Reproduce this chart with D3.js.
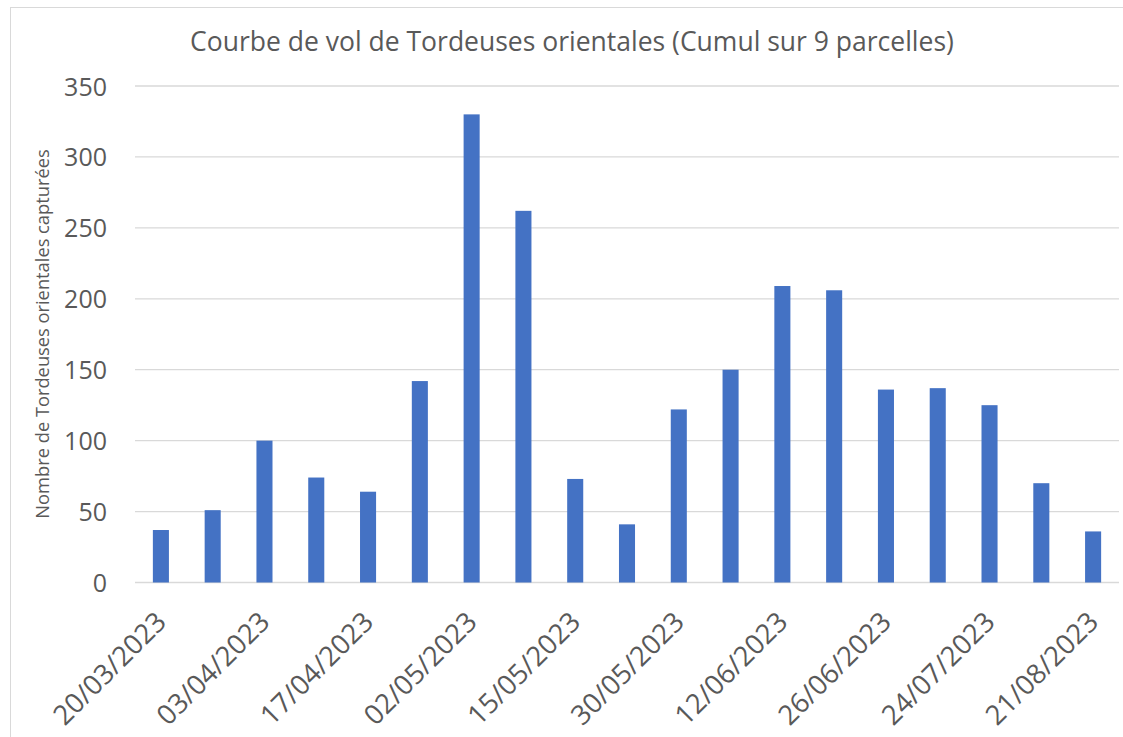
<!DOCTYPE html>
<html>
<head>
  <meta charset="utf-8">
  <title>Courbe de vol</title>
  <script src="https://cdn.jsdelivr.net/npm/d3@7"></script>
  <style>
    body { margin: 0; background: #fff; }
    svg text { font-family: "Open Sans", "Noto Sans", sans-serif; fill: #595959; }
  </style>
</head>
<body>
<div id="chart"></div>

<script>
// releves (one every ~week), only every other date is labelled on the axis
var dates = ['20/03/2023','27/03/2023','03/04/2023','10/04/2023','17/04/2023','24/04/2023',
             '02/05/2023','09/05/2023','15/05/2023','22/05/2023','30/05/2023','05/06/2023',
             '12/06/2023','19/06/2023','26/06/2023','10/07/2023','24/07/2023','07/08/2023',
             '21/08/2023'];
var captures = [37, 51, 100, 74, 64, 142, 330, 262, 73, 41, 122, 150, 209, 206, 136, 137, 125, 70, 36];
var yTicks = [0, 50, 100, 150, 200, 250, 300, 350];

var w = 1123, h = 737;
var pLeft = 135, pRight = 1119, pTop = 86, pBottom = 582.5;

var svg = d3.select('#chart').append('svg')
  .attr('width', w)
  .attr('height', h);

// chart frame
svg.append('rect')
  .attr('x', 10.5).attr('y', 7.5)
  .attr('width', w + 10).attr('height', h)
  .attr('fill', 'none')
  .attr('stroke', '#d9d9d9');

var x = d3.scaleBand()
  .domain(dates)
  .range([pLeft, pRight])
  .paddingInner(0.69)
  .paddingOuter(0.345);

var y = d3.scaleLinear()
  .domain([0, 350])
  .range([pBottom, pTop]);

// gridlines
svg.append('g')
  .selectAll('line')
  .data(yTicks)
  .enter()
  .append('line')
  .attr('x1', pLeft).attr('x2', pRight)
  .attr('y1', function(d){ return y(d); })
  .attr('y2', function(d){ return y(d); })
  .attr('stroke', '#d9d9d9')
  .attr('stroke-width', 1.3);

// y labels
var yAxis = svg.append('g')
  .attr('transform', 'translate(' + (pLeft - 28) + ',0)')
  .call(d3.axisLeft(y).tickValues(yTicks).tickSize(0).tickPadding(0));
yAxis.select('.domain').remove();
yAxis.selectAll('text')
  .attr('font-size', '25px')
  .attr('dy', '0.36em')
  .style('fill', '#595959');

// bars
svg.append('g')
  .selectAll('rect')
  .data(captures)
  .enter()
  .append('rect')
  .attr('x', function(d, i){ return x(dates[i]); })
  .attr('y', function(d){ return y(d); })
  .attr('width', x.bandwidth())
  .attr('height', function(d){ return pBottom - y(d); })
  .attr('fill', '#4472c4');

// x labels, every other date
var xAxis = svg.append('g')
  .attr('transform', 'translate(0,' + pBottom + ')')
  .call(d3.axisBottom(x)
    .tickValues(dates.filter(function(d, i){ return i % 2 === 0; }))
    .tickSize(0));
xAxis.select('.domain').remove();
xAxis.selectAll('text')
  .attr('font-size', '27.5px')
  .attr('text-anchor', 'end')
  .attr('dy', null)
  .attr('y', 0)
  .attr('transform', 'translate(7,41) rotate(-45)')
  .style('fill', '#595959');

// title
svg.append('text')
  .attr('x', 572)
  .attr('y', 51)
  .attr('text-anchor', 'middle')
  .attr('font-size', '26.5px')
  .text('Courbe de vol de Tordeuses orientales (Cumul sur 9 parcelles)');

// y axis title
svg.append('text')
  .attr('transform', 'translate(49,334) rotate(-90)')
  .attr('text-anchor', 'middle')
  .attr('font-size', '18.3px')
  .text('Nombre de Tordeuses orientales capturées');
</script>
</body>
</html>
